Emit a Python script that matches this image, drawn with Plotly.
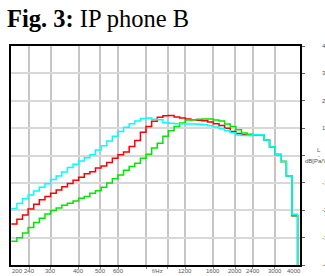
import plotly.graph_objects as go
import math

# 1/12-octave band edges (Hz)
band_edges_hz = [200, 211.9, 224.5, 237.8, 252.0, 267.0, 282.8, 299.7, 317.5, 336.4,
                 356.4, 377.6, 400, 423.8, 449.0, 475.7, 504.0, 534.0, 565.7, 599.3,
                 635.0, 672.7, 712.7, 755.1, 800, 847.6, 898.0, 951.4, 1008, 1068,
                 1131, 1199, 1270, 1345, 1425, 1510, 1600, 1695, 1796, 1903,
                 2016, 2136, 2263, 2397, 2540, 2691, 2851, 3020, 3200, 3390,
                 3592, 3805, 4032]

red_db = [-25, -23.3, -21.7, -19.5, -17.8, -16.2, -15, -13.8, -12.6, -11.4,
          -10.2, -9, -7.9, -6.7, -5.9, -4.6, -3.8, -2.6, -1, 0.3,
          1.3, 3.3, 5.5, 8.5, 10.6, 12.5, 14, 14.5, 14.6, 14.1,
          13.7, 13.3, 13.1, 12.9, 12.7, 12.2, 11.6, 11, 10, 8.8,
          8, 7.6, 7.4, 7.6, 7.6, 5.7, 3.1, 0.4, -2.2, -7.5,
          -22, -50]

green_db = [-31.3, -30, -28.3, -26.3, -24.5, -22.9, -21.4, -20.1, -19.2, -18.2,
            -17.4, -16.6, -15.6, -15, -13.8, -12.9, -11.6, -10, -8.5, -7.1,
            -5.4, -4, -2.8, -1, 0.5, 2.7, 4.5, 7, 9, 10.6,
            11.9, 13, 13.1, 13.2, 13.3, 13.3, 13, 12.6, 11.5, 10.6,
            9.4, 8.2, 7.8, 7.6, 7.6, 5.7, 3.1, 0.4, -2.2, -7.5,
            -22, -50]

cyan_db = [-19.4, -17.5, -15.8, -14.4, -13, -11.6, -10.3, -8.8, -7.5, -6,
           -4.4, -3.2, -2, -0.8, 0.3, 2, 3.6, 5.3, 7, 8.8,
           10.3, 11.6, 12.6, 13.5, 13.7, 13.2, 13.1, 12, 11.8, 11.6,
           11.6, 11.5, 11.5, 11.4, 11.2, 10.9, 10.4, 9.8, 9, 8.3,
           7.5, 7.3, 7.3, 7.6, 7.6, 5.7, 3.1, 0.4, -2.2, -7.5,
           -21.5, -50]

grid_freqs = [240, 300, 400, 500, 600, 800, 1000, 1200, 1600, 2000, 2400, 3000]
x_tick_labels = [("200", 200), ("240", 240), ("300", 300), ("400", 400), ("500", 500),
                 ("600", 600), ("f/Hz", 900), ("1200", 1200), ("1600", 1600),
                 ("2000", 2000), ("2400", 2400), ("3000", 3000)]
y_tick_vals = [40, 30, 20, 10, -10, -20, -30, -40]

fig = go.Figure()
for vals, col in [(red_db, "#ff0000"), (green_db, "#00e600"), (cyan_db, "#00ffff")]:
    fig.add_trace(go.Scatter(
        x=band_edges_hz, y=vals + [vals[-1]], mode="lines",
        line=dict(color=col, width=1.5, shape="hv"), hoverinfo="skip",
        showlegend=False))

lab_font = dict(family="Liberation Sans, Arial, sans-serif", size=6, color="#555555")
ann = []
for txt, f in x_tick_labels:
    a = dict(x=math.log10(f), xref="x", y=0, yref="paper", yshift=-6, text=txt,
             showarrow=False, font=lab_font, yanchor="middle", xanchor="center")
    if txt == "200":
        a["xanchor"] = "left"
        a["xshift"] = -1
    ann.append(a)
ann.append(dict(x=1, xref="paper", xshift=3, y=0, yref="paper", yshift=-6, text="4000",
                showarrow=False, font=lab_font, yanchor="middle", xanchor="right"))
for v in y_tick_vals:
    ann.append(dict(x=1, xref="paper", xshift=20, y=v, yref="y", text=str(v),
                    showarrow=False, font=lab_font, xanchor="left", yanchor="middle"))
ann.append(dict(x=1, xref="paper", xshift=18.5, y=2.0, yref="y", text="L",
                showarrow=False, font=lab_font, xanchor="center", yanchor="middle"))
ann.append(dict(x=1, xref="paper", xshift=18.5, y=0.0, yref="y", text="-",
                showarrow=False, font=lab_font, xanchor="center", yanchor="middle"))
ann.append(dict(x=1, xref="paper", xshift=3, y=-1.9, yref="y", text="dB[Pa/V]",
                showarrow=False, font=lab_font, xanchor="left", yanchor="middle"))

fig.update_layout(
    width=325, height=276,
    margin=dict(l=9, r=25, t=46, b=11, pad=0),
    paper_bgcolor="white", plot_bgcolor="white",
    title=dict(text="<b>Fig. 3:</b> IP phone B", x=7 / 325, xanchor="left",
               y=1 - 10 / 276, yanchor="top", yref="container", xref="container",
               font=dict(family="Liberation Serif, Times New Roman, serif", size=24.5,
                         color="black")),
    annotations=ann,
    xaxis=dict(type="log", range=[math.log10(199.4), math.log10(3900)],
               tickvals=grid_freqs, showticklabels=False, showgrid=True,
               gridcolor="#c6c6c6", gridwidth=1.5, ticks="outside", ticklen=2,
               tickcolor="#888888", showline=True, linecolor="black", linewidth=1.5,
               mirror=True, zeroline=False, fixedrange=True),
    yaxis=dict(range=[-40, 40], tickvals=[-30, -20, -10, 0, 10, 20, 30, 40, -40],
               side="right", showticklabels=False, showgrid=True,
               gridcolor="#d8d8d8", gridwidth=2, ticks="outside", ticklen=3,
               tickcolor="#666666", showline=True, linecolor="black", linewidth=1.5,
               mirror=True, zeroline=False, fixedrange=True),
)
fig.write_html("out.html", config={"displayModeBar": False},
               post_script="document.body.style.margin='0';document.body.style.overflow='hidden';")
